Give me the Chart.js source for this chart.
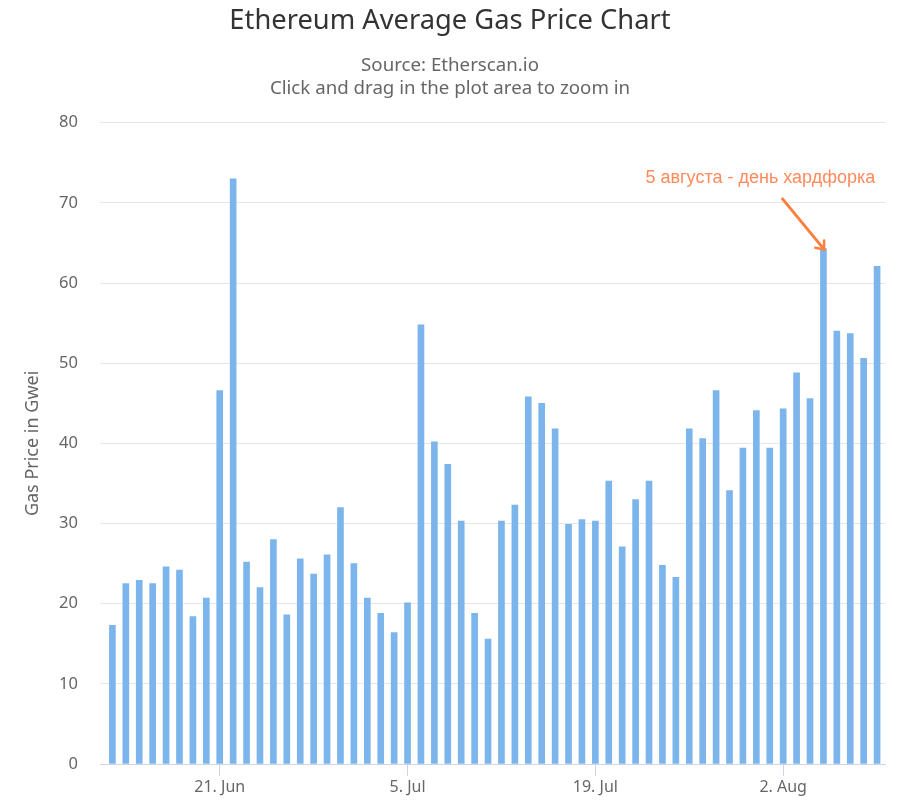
<!DOCTYPE html>
<html><head><meta charset="utf-8">
<script src="https://cdn.jsdelivr.net/npm/chart.js@4/dist/chart.umd.min.js"></script>
<style>html,body{margin:0;background:#fff}canvas{display:block}</style></head>
<body><canvas id="c" width="900" height="803"></canvas>
<script>
const titleText = 'Ethereum Average Gas Price Chart';
const subtitleLines = ['Source: Etherscan.io', 'Click and drag in the plot area to zoom in'];
const yAxisTitle = 'Gas Price in Gwei';
const noteText = '5 августа - день хардфорка';
const values = [17.3,22.5,22.9,22.5,24.6,24.2,18.4,20.7,46.6,73,25.2,22,28,18.6,25.6,23.7,26.1,32,25,20.7,18.8,16.4,20.1,54.8,40.2,37.4,30.3,18.8,15.6,30.3,32.3,45.8,45,41.8,29.9,30.5,30.3,35.3,27.1,33,35.3,24.8,23.3,41.8,40.6,46.6,34.1,39.4,44.1,39.4,44.3,48.8,45.6,64.3,54,53.7,50.6,62.1];
const dayIndex = values.map((_, i) => i);
const tickIndex = [8, 22, 36, 50];
const tickLabels = ['21. Jun', '5. Jul', '19. Jul', '2. Aug'];
const yTicks = [0,10,20,30,40,50,60,70,80];
// annotation anchors, in data units (day index, Gwei)
const arrowFrom = [49.95, 70.5];
const arrowTo = [53.05, 64.2];
const noteAt = [48.3, 73.1];

const noteArrow = {
  id: 'noteArrow',
  afterDatasetsDraw(chart) {
    const {ctx, scales: {x, y}} = chart;
    const x0 = x.getPixelForValue(arrowFrom[0]), y0 = y.getPixelForValue(arrowFrom[1]);
    const x1 = x.getPixelForValue(arrowTo[0]), y1 = y.getPixelForValue(arrowTo[1]);
    ctx.save();
    ctx.strokeStyle = '#ff7f3f'; ctx.lineWidth = 3; ctx.lineCap = 'round'; ctx.lineJoin = 'round';
    ctx.beginPath(); ctx.moveTo(x0, y0); ctx.lineTo(x1, y1); ctx.stroke();
    const a = Math.atan2(y1 - y0, x1 - x0), L = 9;
    ctx.lineWidth = 2.5;
    ctx.beginPath();
    ctx.moveTo(x1 + L * Math.cos(a + 2.45), y1 + L * Math.sin(a + 2.45));
    ctx.lineTo(x1, y1);
    ctx.lineTo(x1 + L * Math.cos(a - 2.45), y1 + L * Math.sin(a - 2.45));
    ctx.stroke();
    ctx.fillStyle = '#ff8a5c';
    ctx.font = '18px "Liberation Sans"';
    ctx.textAlign = 'center'; ctx.textBaseline = 'middle';
    ctx.fillText(noteText, x.getPixelForValue(noteAt[0]), y.getPixelForValue(noteAt[1]));
    ctx.restore();
  }
};

new Chart(document.getElementById('c'), {
  type: 'bar',
  plugins: [noteArrow],
  data: { datasets: [{
    data: dayIndex.map((d, i) => ({x: d, y: values[i]})),
    backgroundColor: '#7cb5ec',
    barThickness: 6,
    borderWidth: 0
  }]},
  options: {
    responsive: false, animation: false, devicePixelRatio: 1,
    layout: { padding: {left: 15, right: 15, top: 0, bottom: 0} },
    plugins: {
      legend: {display: false}, tooltip: {enabled: false},
      title: { display: true, text: titleText, color: '#333333',
        font: {family: '"Noto Sans"', size: 27.3, weight: 'normal'},
        padding: {top: 5, bottom: 16} },
      subtitle: { display: true, text: subtitleLines, color: '#666666',
        font: {family: '"Noto Sans"', size: 18.7, weight: 'normal', lineHeight: 1.23},
        padding: {top: 0, bottom: 23} }
    },
    scales: {
      x: { type: 'linear', min: -0.925, max: 57.59, offset: false,
        afterBuildTicks(s) { s.ticks = tickIndex.map(v => ({value: v})); },
        afterFit(s) { s.height = 39; },
        grid: { offset: false, drawOnChartArea: false, color: '#ccd6eb', tickColor: '#ccd6eb', tickLength: 12 },
        border: { color: '#ccd6eb', width: 1 },
        ticks: { autoSkip: false, maxRotation: 0, padding: 2, color: '#666666',
          font: {family: '"Noto Sans"', size: 16},
          callback: v => tickLabels[tickIndex.indexOf(v)] }
      },
      y: { min: 0, max: 80,
        afterBuildTicks(s) { s.ticks = yTicks.map(v => ({value: v})); },
        afterFit(s) { s.width = 85; },
        grid: { color: '#e6e6e6', drawTicks: false, lineWidth: 1 },
        border: { display: false },
        ticks: { padding: 22, color: '#666666', font: {family: '"Noto Sans"', size: 16.5} },
        title: { display: true, text: yAxisTitle, color: '#666666',
          font: {family: '"Noto Sans"', size: 18}, padding: {top: 7, bottom: 0} }
      }
    }
  }
});
</script></body></html>
